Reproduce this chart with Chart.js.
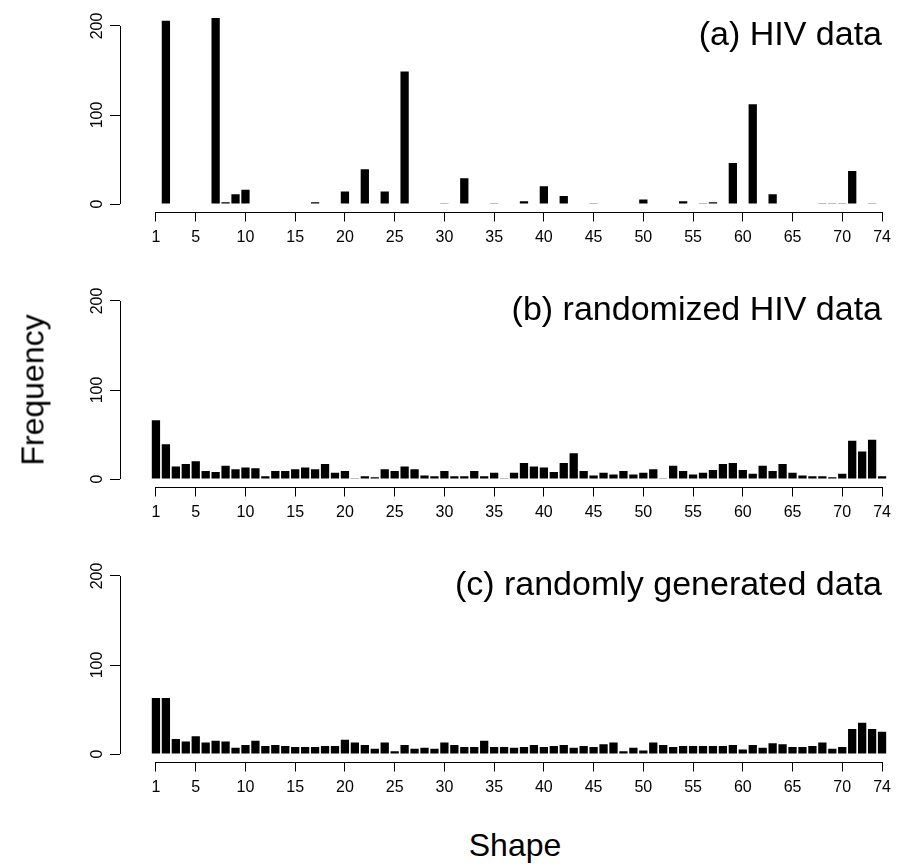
<!DOCTYPE html>
<html>
<head>
<meta charset="utf-8">
<script src="https://cdn.jsdelivr.net/npm/chart.js@4.4.1/dist/chart.umd.min.js"></script>
<style>
  html, body { margin: 0; padding: 0; background: #fff; }
  #page { position: relative; width: 897px; height: 868px; font-family: "Liberation Sans", Arial, sans-serif; color: #000; }
  .panel { position: absolute; left: 0; width: 897px; height: 275px; }
  #ylab { position: absolute; left: 33px; top: 390px; transform: translate(-50%, -50%) rotate(-90deg); font-size: 32px; white-space: nowrap; }
  #xlab { position: absolute; left: 515px; top: 845px; transform: translate(-50%, -50%); font-size: 32px; white-space: nowrap; }
</style>
</head>
<body>
<div id="page">
  <div class="panel" style="top:0px"><canvas id="chart-a" width="897" height="275"></canvas></div>
  <div class="panel" style="top:275px"><canvas id="chart-b" width="897" height="275"></canvas></div>
  <div class="panel" style="top:550px"><canvas id="chart-c" width="897" height="275"></canvas></div>
  <div id="ylab">Frequency</div>
  <div id="xlab">Shape</div>
</div>
<script>
// ─── Data ─────────────────────────────────────────────────────────
const shapes = [
  1, 2, 3, 4, 5, 6, 7, 8, 9, 10, 11, 12, 13, 14, 15, 16, 17, 18, 19, 20,
  21, 22, 23, 24, 25, 26, 27, 28, 29, 30, 31, 32, 33, 34, 35, 36, 37, 38, 39, 40,
  41, 42, 43, 44, 45, 46, 47, 48, 49, 50, 51, 52, 53, 54, 55, 56, 57, 58, 59, 60,
  61, 62, 63, 64, 65, 66, 67, 68, 69, 70, 71, 72, 73, 74,
];

const hivCounts = [
  0, 206, 0, 0, 0, 0, 209, 2, 11, 16,
  0, 0, 0, 0, 0, 0, 2, 0, 0, 14,
  0, 39, 0, 14, 0, 149, 0, 0, 0, 1,
  0, 29, 0, 0, 1, 0, 0, 3, 0, 20,
  0, 9, 0, 0, 1, 0, 0, 0, 0, 5,
  0, 0, 0, 3, 0, 1, 2, 0, 46, 0,
  112, 0, 11, 0, 0, 0, 0, 1, 1, 1,
  37, 0, 1, 0,
];

const randomizedCounts = [
  66, 39, 14, 17, 20, 9, 8, 15, 11, 13,
  12, 3, 9, 9, 11, 13, 11, 17, 7, 9,
  1, 3, 2, 11, 9, 14, 11, 4, 3, 9,
  3, 3, 9, 3, 7, 1, 7, 18, 14, 13,
  8, 18, 29, 9, 4, 7, 5, 9, 5, 7,
  11, 1, 15, 9, 5, 7, 10, 17, 18, 10,
  6, 15, 9, 17, 7, 4, 3, 3, 2, 6,
  43, 31, 44, 3,
];

const generatedCounts = [
  63, 63, 17, 14, 20, 13, 15, 14, 7, 10,
  15, 9, 10, 9, 8, 8, 8, 9, 9, 16,
  13, 10, 6, 13, 3, 10, 6, 7, 6, 13,
  10, 8, 8, 15, 8, 8, 7, 8, 10, 8,
  9, 10, 7, 9, 8, 11, 13, 3, 7, 4,
  13, 10, 8, 9, 9, 9, 9, 9, 10, 5,
  10, 7, 12, 11, 8, 8, 9, 13, 6, 8,
  28, 35, 28, 25,
];

const xTickLabels = [1, 5, 10, 15, 20, 25, 30, 35, 40, 45, 50, 55, 60, 65, 70, 74];
const yTickLabels = [0, 100, 200];
const panelTitles = ["(a) HIV data", "(b) randomized HIV data", "(c) randomly generated data"];

// ─── Layout ───────────────────────────────────────────────────────
const FONT = "'Liberation Sans', Arial, sans-serif";
const PANEL_H = 275;
const AREA_LEFT = 120;   // y axis line
const AREA_TOP = 10.5;
const AREA_BOTTOM = 211.5; // x axis line

// R-style axes: line only between first and last tick, rotated y labels, panel title
const rAxes = {
  id: "rAxes",
  afterDraw(chart, args, opts) {
    const { ctx, chartArea } = chart;
    const x = chart.scales.x;
    const y = chart.scales.y;
    ctx.save();
    ctx.strokeStyle = "#000";
    ctx.lineWidth = 1;

    const yLine = Math.round(chartArea.bottom) + 0.5;
    ctx.beginPath();
    ctx.moveTo(x.getPixelForValue(xTickLabels[0]), yLine);
    ctx.lineTo(x.getPixelForValue(xTickLabels[xTickLabels.length - 1]), yLine);
    ctx.stroke();

    const xLine = Math.round(chartArea.left) + 0.5;
    ctx.beginPath();
    ctx.moveTo(xLine, y.getPixelForValue(yTickLabels[0]));
    ctx.lineTo(xLine, y.getPixelForValue(yTickLabels[yTickLabels.length - 1]));
    ctx.stroke();

    ctx.fillStyle = "#000";
    ctx.font = `16px ${FONT}`;
    ctx.textAlign = "center";
    ctx.textBaseline = "middle";
    yTickLabels.forEach((v) => {
      ctx.save();
      ctx.translate(xLine - 23, y.getPixelForValue(v));
      ctx.rotate(-Math.PI / 2);
      ctx.fillText(String(v), 0, 0);
      ctx.restore();
    });

    ctx.font = `34px ${FONT}`;
    ctx.textAlign = "right";
    ctx.fillText(opts.title, 882, 36);
    ctx.restore();
  },
};

function makePanel(canvasId, values, title) {
  const ctx = document.getElementById(canvasId);
  return new Chart(ctx, {
    type: "bar",
    data: {
      datasets: [
        {
          data: shapes.map((s, i) => ({ x: s, y: values[i] })),
          backgroundColor: "#000",
          borderWidth: 0,
          barPercentage: 0.833,
          categoryPercentage: 1,
        },
      ],
    },
    options: {
      responsive: false,
      animation: false,
      layout: { padding: { top: AREA_TOP, left: 0, right: 897 - 892, bottom: 0 } },
      plugins: {
        legend: { display: false },
        tooltip: { enabled: false },
        rAxes: { title },
      },
      scales: {
        x: {
          type: "linear",
          offset: false,
          min: -2.614,
          max: 74.9,
          grid: { display: true, offset: false, drawOnChartArea: false, drawTicks: true, tickLength: 10, color: "#000" },
          border: { display: false },
          ticks: {
            color: "#000",
            padding: 6,
            maxRotation: 0,
            autoSkip: false,
            font: { family: FONT, size: 16 },
            callback: (v) => String(v),
          },
          afterBuildTicks: (scale) => {
            scale.ticks = xTickLabels.map((v) => ({ value: v }));
          },
          afterFit: (scale) => {
            scale.height = PANEL_H - AREA_BOTTOM;
          },
        },
        y: {
          min: -8.4,
          max: 217.4,
          grid: { display: true, offset: false, drawOnChartArea: false, drawTicks: true, tickLength: 10, color: "#000" },
          border: { display: false },
          ticks: { display: false },
          afterBuildTicks: (scale) => {
            scale.ticks = yTickLabels.map((v) => ({ value: v }));
          },
          afterFit: (scale) => {
            scale.width = AREA_LEFT;
          },
        },
      },
    },
    plugins: [rAxes],
  });
}

makePanel("chart-a", hivCounts, panelTitles[0]);
makePanel("chart-b", randomizedCounts, panelTitles[1]);
makePanel("chart-c", generatedCounts, panelTitles[2]);
</script>
</body>
</html>
